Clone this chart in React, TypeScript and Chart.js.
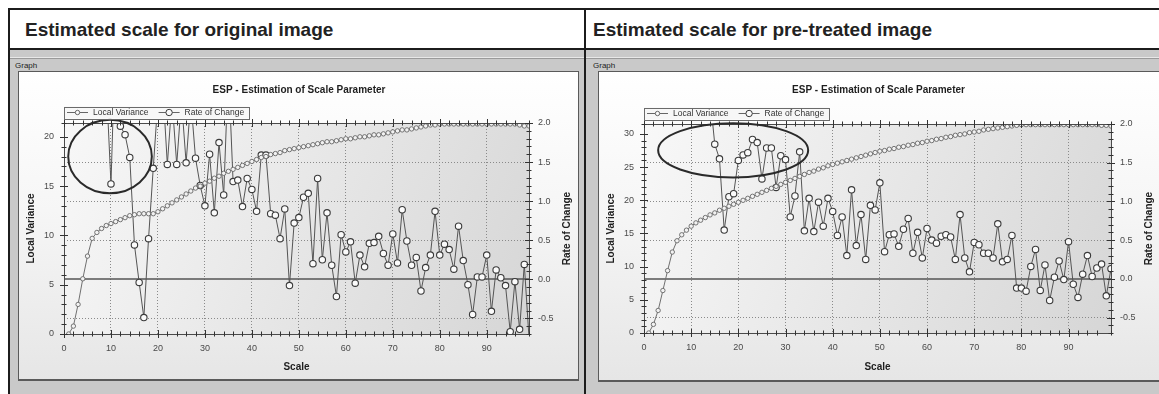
import React, { useEffect, useRef } from 'react';
import { Chart, registerables } from 'chart.js';

Chart.register(...registerables);

const FONT = '"Liberation Sans", Arial, Helvetica, sans-serif';
Chart.defaults.font.family = FONT;

// ---------- data ----------
const SCALE_LEVELS: number[] = Array.from({ length: 99 }, (_, i) => i + 1);

const X_TICKS = { min: 0, max: 99, minorStep: 2, majorStep: 10 };

const ORIGINAL_LOCAL_VARIANCE: number[] = [
  0, 0.8, 3.0, 5.6, 7.9, 9.7, 10.3, 10.7, 11.0, 11.2,
  11.4, 11.6, 11.8, 12.0, 12.1, 12.2, 12.2, 12.2, 12.2, 12.4,
  12.7, 13.0, 13.3, 13.6, 13.9, 14.2, 14.5, 14.8, 15.0, 15.3,
  15.5, 15.8, 16.0, 16.3, 16.5, 16.7, 16.9, 17.1, 17.3, 17.5,
  17.7, 17.9, 18.0, 18.2, 18.3, 18.4, 18.6, 18.7, 18.8, 18.9,
  19.0, 19.1, 19.2, 19.3, 19.4, 19.5, 19.5, 19.6, 19.7, 19.8,
  19.8, 19.9, 20.0, 20.0, 20.1, 20.2, 20.2, 20.3, 20.4, 20.5,
  20.6, 20.7, 20.7, 20.8, 20.9, 21.0, 21.1, 21.2, 21.2, 21.3,
  21.3, 21.3, 21.3, 21.3, 21.3, 21.3, 21.3, 21.3, 21.3, 21.3,
  21.3, 21.3, 21.3, 21.3, 21.3, 21.3, 21.2, 21.1, 21.1,
];

const ORIGINAL_RATE_OF_CHANGE: (number | null)[] = [
  null, 100, 60, 40, 25, 15, 6, 4, 2.52, 1.22,
  3.2, 1.96, 1.85, 1.56, 0.44, -0.04, -0.49, 0.52, 1.42, 2.3,
  2.5, 1.47, 2.3, 1.47, 2.3, 1.49, 2.3, 1.55, 1.2, 0.94,
  1.6, 0.85, 1.75, 1.08, 2.7, 1.25, 1.27, 0.93, 1.29, 1.15,
  0.87, 1.59, 1.59, 0.84, 0.82, 0.52, 0.9, -0.08, 0.72, 0.79,
  1.05, 1.1, 0.2, 1.29, 0.25, 0.85, 0.18, -0.22, 0.57, 0.35,
  0.48, -0.05, 0.31, 0.16, 0.46, 0.47, 0.55, 0.33, 0.18, 0.58,
  0.21, 0.89, 0.49, 0.18, 0.28, -0.15, 0.15, 0.31, 0.87, 0.31,
  0.45, 0.38, 0.13, 0.68, 0.24, -0.07, -0.45, 0.03, 0.03, 0.31,
  -0.41, 0.12, 0.02, -0.08, -0.67, -0.03, -0.64, 0.19, -0.75,
];

const PRETREATED_LOCAL_VARIANCE: number[] = [
  0, 1.3, 3.4, 6.4, 9.4, 12.2, 13.9, 14.8, 15.5, 16.1,
  16.6, 17.0, 17.4, 17.8, 18.1, 18.5, 18.8, 19.1, 19.4, 19.7,
  20.0, 20.3, 20.6, 20.9, 21.2, 21.5, 21.8, 22.1, 22.4, 22.7,
  23.0, 23.3, 23.6, 23.9, 24.2, 24.4, 24.7, 24.9, 25.2, 25.4,
  25.6, 25.8, 26.0, 26.2, 26.4, 26.6, 26.8, 27.0, 27.2, 27.4,
  27.5, 27.7, 27.8, 28.0, 28.1, 28.3, 28.4, 28.6, 28.7, 28.9,
  29.0, 29.2, 29.3, 29.5, 29.6, 29.8, 29.9, 30.0, 30.2, 30.3,
  30.4, 30.6, 30.7, 30.8, 30.9, 31.0, 31.1, 31.2, 31.3, 31.4,
  31.4, 31.4, 31.4, 31.4, 31.4, 31.4, 31.4, 31.4, 31.4, 31.4,
  31.4, 31.4, 31.4, 31.4, 31.4, 31.4, 31.3, 31.3, 31.2,
];

const PRETREATED_RATE_OF_CHANGE: (number | null)[] = [
  null, 100, 60, 40, 30, 20, 10, 6, 4.5, 4,
  3.5, 3, 2.6, 2.35, 1.74, 1.55, 0.63, 1.06, 1.1, 1.53,
  1.6, 1.63, 1.8, 1.76, 1.29, 1.69, 1.69, 1.18, 1.59, 1.54,
  0.8, 1.07, 1.64, 0.62, 1.04, 0.61, 0.99, 0.68, 1.04, 0.87,
  0.56, 0.8, 0.3, 1.15, 0.43, 0.83, 0.25, 0.95, 0.89, 1.24,
  0.35, 0.57, 0.58, 0.42, 0.64, 0.78, 0.33, 0.6, 0.27, 0.65,
  0.5, 0.46, 0.55, 0.57, 0.54, 0.25, 0.83, 0.27, 0.09, 0.47,
  0.44, 0.33, 0.33, 0.27, 0.71, 0.22, 0.25, 0.56, -0.12, -0.12,
  -0.16, 0.16, 0.38, -0.15, 0.18, -0.28, 0.02, 0.23, -0.01, 0.48,
  -0.07, -0.24, 0.06, 0.3, 0.03, 0.14, 0.19, -0.22, 0.13,
];

const ROC_AXIS = { min: -0.7, max: 2.0, minorStep: 0.1, majorStep: 0.5 };
const ORIGINAL_LV_MAX = 21.4;
const PRETREATED_LV_MAX = 31.5;
const LV_MINOR_STEP = 1;
const LV_MAJOR_STEP = 5;

// annotation ellipses, in data units (x: scale, y: rate of change)
const ORIGINAL_ELLIPSE = { x: 9.8, y: 1.57, rx: 8.9, ry: 0.47 };
const PRETREATED_ELLIPSE = { x: 18.9, y: 1.66, rx: 15.9, ry: 0.35 };

const CHART_TITLE = 'ESP - Estimation of Scale Parameter';
const LV_LABEL = 'Local Variance';
const ROC_LABEL = 'Rate of Change';
const X_TITLE = 'Scale';

// ---------- helpers ----------
const isMultiple = (v: number, step: number) => Math.abs(v / step - Math.round(v / step)) < 1e-6;

const decorPlugin = {
  id: 'espDecor',
  beforeDraw(chart: any) {
    const { ctx, chartArea: a } = chart;
    const g = ctx.createLinearGradient(a.left, a.top, a.right, a.bottom);
    g.addColorStop(0, '#f8f8f8');
    g.addColorStop(1, '#d6d6d6');
    ctx.save();
    ctx.fillStyle = g;
    ctx.fillRect(a.left, a.top, a.right - a.left, a.bottom - a.top);
    ctx.restore();
  },
  beforeDatasetsDraw(chart: any) {
    const { ctx, chartArea: a } = chart;
    const py = Math.round(chart.scales.y1.getPixelForValue(0));
    ctx.save();
    ctx.strokeStyle = '#555';
    ctx.lineWidth = 1.6;
    ctx.beginPath();
    ctx.moveTo(a.left, py);
    ctx.lineTo(a.right, py);
    ctx.stroke();
    ctx.restore();
  },
  afterDatasetsDraw(chart: any, _args: any, opts: any) {
    const { ctx, chartArea: a } = chart;
    const xs = chart.scales.x;
    const yl = chart.scales.y;
    const yr = chart.scales.y1;
    ctx.save();
    // frame
    ctx.strokeStyle = '#4a4a4a';
    ctx.lineWidth = 1;
    ctx.strokeRect(Math.round(a.left) + 0.5, Math.round(a.top) + 0.5, Math.round(a.right - a.left), Math.round(a.bottom - a.top));
    // tick marks crossing the frame on four sides
    ctx.strokeStyle = '#333';
    ctx.lineWidth = 1;
    const mark = (x1: number, y1: number, x2: number, y2: number) => {
      ctx.beginPath();
      ctx.moveTo(x1, y1);
      ctx.lineTo(x2, y2);
      ctx.stroke();
    };
    xs.ticks.forEach((t: any) => {
      const p = Math.round(xs.getPixelForValue(t.value)) + 0.5;
      const len = t.label ? 4 : 2.5;
      mark(p, a.bottom - len, p, a.bottom + len);
      mark(p, a.top - len, p, a.top + len);
    });
    yl.ticks.forEach((t: any) => {
      const p = Math.round(yl.getPixelForValue(t.value)) + 0.5;
      const len = t.label ? 4 : 2.5;
      mark(a.left - len, p, a.left + len, p);
    });
    yr.ticks.forEach((t: any) => {
      const p = Math.round(yr.getPixelForValue(t.value)) + 0.5;
      const len = t.label ? 4 : 2.5;
      mark(a.right - len, p, a.right + len, p);
    });
    // annotation ellipse
    const e = opts.ellipse;
    const cx = xs.getPixelForValue(e.x);
    const cy = yr.getPixelForValue(e.y);
    const rx = Math.abs(xs.getPixelForValue(e.x + e.rx) - cx);
    const ry = Math.abs(yr.getPixelForValue(e.y + e.ry) - cy);
    ctx.strokeStyle = '#2a2a2a';
    ctx.lineWidth = 2;
    ctx.beginPath();
    ctx.ellipse(cx, cy, rx, ry, 0, 0, Math.PI * 2);
    ctx.stroke();
    // right axis title, reading bottom-to-top
    ctx.fillStyle = '#222';
    ctx.font = 'bold 10px ' + FONT;
    ctx.textAlign = 'center';
    ctx.textBaseline = 'middle';
    ctx.translate(a.right + opts.rightTitleOffset, (a.top + a.bottom) / 2);
    ctx.rotate(-Math.PI / 2);
    ctx.fillText(opts.rightTitle, 0, 0);
    ctx.restore();

    // legend box
    ctx.save();
    ctx.font = '8.5px ' + FONT;
    ctx.textBaseline = 'middle';
    ctx.textAlign = 'left';
    const ly = a.top - opts.legendGap;
    let x = a.left + 3;
    const items = chart.data.datasets.map((ds: any) => ({ label: ds.label, r: ds.pointRadius, c: ds.pointBorderColor }));
    const positions: any[] = [];
    items.forEach((it: any) => {
      positions.push({ x, it });
      x += 26 + ctx.measureText(it.label).width + 10;
    });
    const boxRight = x - 10 + 5;
    ctx.fillStyle = '#f7f7f7';
    ctx.fillRect(a.left, ly - 6, boxRight - a.left, 12);
    ctx.strokeStyle = '#6a6a6a';
    ctx.lineWidth = 1;
    ctx.strokeRect(Math.round(a.left) + 0.5, Math.round(ly - 6) + 0.5, Math.round(boxRight - a.left), 12);
    positions.forEach(({ x: px, it }) => {
      ctx.strokeStyle = '#666';
      ctx.beginPath();
      ctx.moveTo(px, ly);
      ctx.lineTo(px + 21, ly);
      ctx.stroke();
      ctx.beginPath();
      ctx.arc(px + 10.5, ly, it.r, 0, Math.PI * 2);
      ctx.fillStyle = '#fafafa';
      ctx.fill();
      ctx.strokeStyle = it.c;
      ctx.stroke();
      ctx.fillStyle = '#333';
      ctx.fillText(it.label, px + 26, ly + 0.5);
    });
    ctx.restore();
  },
};

type ChartProps = {
  lv: number[];
  roc: (number | null)[];
  lvMax: number;
  ellipse: { x: number; y: number; rx: number; ry: number };
  left: number;
  top: number;
  width: number;
  height: number;
  leftAxisWidth: number;
  rightAxisWidth: number;
  bottomAxisHeight: number;
  titleGap: number;
};

function EspChart(p: ChartProps) {
  const ref = useRef<HTMLCanvasElement>(null);
  useEffect(() => {
    const tickFont = { size: 9, family: FONT };
    const chart = new Chart(ref.current as HTMLCanvasElement, {
      type: 'line',
      data: {
        datasets: [
          {
            label: LV_LABEL,
            data: SCALE_LEVELS.map((s, i) => ({ x: s, y: p.lv[i] })),
            yAxisID: 'y',
            borderColor: '#707070',
            borderWidth: 1,
            pointRadius: 2.2,
            pointBorderWidth: 0.9,
            pointBackgroundColor: '#f2f2f2',
            pointBorderColor: '#666',
            tension: 0,
          },
          {
            label: ROC_LABEL,
            data: SCALE_LEVELS.map((s, i) => ({ x: s, y: p.roc[i] })),
            yAxisID: 'y1',
            borderColor: '#555',
            borderWidth: 1,
            pointRadius: 3.2,
            pointBorderWidth: 1.1,
            pointBackgroundColor: '#fbfbfb',
            pointBorderColor: '#3a3a3a',
            tension: 0,
            spanGaps: false,
          },
        ],
      } as any,
      options: {
        responsive: false,
        animation: false,
        devicePixelRatio: 1,
        events: [],
        layout: { padding: 0 },
        plugins: {
          legend: { display: false },
          tooltip: { enabled: false },
          title: {
            display: true,
            text: CHART_TITLE,
            color: '#1e1e1e',
            font: { size: 10, weight: 'bold', family: FONT },
            padding: { top: 12, bottom: p.titleGap },
          },
          espDecor: {
            ellipse: p.ellipse,
            rightTitle: ROC_LABEL,
            rightTitleOffset: 38,
            legendGap: 10.5,
          },
        } as any,
        scales: {
          x: {
            type: 'linear',
            min: X_TICKS.min,
            max: X_TICKS.max,
            ticks: {
              stepSize: X_TICKS.minorStep,
              autoSkip: false,
              maxRotation: 0,
              padding: 5,
              color: '#4a4a4a',
              font: tickFont,
              callback: (v: any) => (isMultiple(v, X_TICKS.majorStep) ? String(v) : ''),
            },
            grid: {
              color: (c: any) => {
                const v = c.tick ? c.tick.value : 0;
                return v > 0 && v < X_TICKS.max && isMultiple(v, X_TICKS.majorStep) ? '#8a8a8a' : 'transparent';
              },
              lineWidth: 1,
              tickColor: 'transparent',
              tickLength: 4,
            },
            border: { display: false, dash: [1, 2] },
            title: {
              display: true,
              text: X_TITLE,
              color: '#1e1e1e',
              font: { size: 10, weight: 'bold', family: FONT },
              padding: { top: 0, bottom: 7 },
            },
            afterFit: (s: any) => {
              s.height = p.bottomAxisHeight;
            },
          },
          y: {
            type: 'linear',
            position: 'left',
            min: 0,
            max: p.lvMax,
            ticks: {
              stepSize: LV_MINOR_STEP,
              autoSkip: false,
              padding: 6,
              color: '#4a4a4a',
              font: tickFont,
              callback: (v: any) => (isMultiple(v, LV_MAJOR_STEP) ? String(v) : ''),
            },
            grid: { drawOnChartArea: false, tickColor: 'transparent', tickLength: 4 },
            border: { display: false },
            title: {
              display: true,
              text: LV_LABEL,
              color: '#1e1e1e',
              font: { size: 10, weight: 'bold', family: FONT },
              padding: { top: 7, bottom: 0 },
            },
            afterFit: (s: any) => {
              s.width = p.leftAxisWidth;
            },
          },
          y1: {
            type: 'linear',
            position: 'right',
            min: ROC_AXIS.min,
            max: ROC_AXIS.max,
            ticks: {
              stepSize: ROC_AXIS.minorStep,
              autoSkip: false,
              padding: 5,
              color: '#4a4a4a',
              font: tickFont,
              callback: (v: any) => (isMultiple(v, ROC_AXIS.majorStep) ? Number(v).toFixed(1) : ''),
            },
            grid: {
              color: (c: any) => {
                const v = c.tick ? c.tick.value : 0;
                return Math.abs(v) > 1e-6 && v < ROC_AXIS.max - 1e-6 && isMultiple(v, ROC_AXIS.majorStep) ? '#8a8a8a' : 'transparent';
              },
              lineWidth: 1,
              tickColor: 'transparent',
              tickLength: 4,
            },
            border: { display: false, dash: [1, 2] },
            afterFit: (s: any) => {
              s.width = p.rightAxisWidth;
            },
          },
        } as any,
      },
      plugins: [decorPlugin as any],
    });
    return () => chart.destroy();
  }, []);
  return (
    <canvas
      ref={ref}
      width={p.width}
      height={p.height}
      style={{ position: 'absolute', left: p.left, top: p.top, width: p.width, height: p.height }}
    />
  );
}

const abs = (l: number, t: number, w: number, h: number, extra: any = {}) => ({
  position: 'absolute' as const,
  left: l,
  top: t,
  width: w,
  height: h,
  ...extra,
});

export default function App() {
  const dark = '#1c1c1c';
  const gray = '#c9c9c9';
  const panelBg = 'linear-gradient(to bottom, #ffffff 0%, #f6f6f6 45%, #e6e6e6 100%)';
  const headerText = { fontFamily: FONT, fontSize: 19, fontWeight: 'bold' as const, color: '#222', lineHeight: '19px', whiteSpace: 'nowrap' as const };
  const graphText = { fontFamily: FONT, fontSize: 8, color: '#222', lineHeight: '8px', whiteSpace: 'nowrap' as const };
  return (
    <div style={abs(0, 0, 1159, 394, { background: '#fff', overflow: 'hidden', fontFamily: FONT })}>
      {/* lower gray frames */}
      <div style={abs(10, 50, 574, 344, { background: gray })} />
      <div style={abs(586, 50, 573, 344, { background: gray })} />
      {/* etched group-box lines */}
      <div style={abs(10, 57, 574, 1, { background: '#e8e8e8' })} />
      <div style={abs(10, 58, 574, 1, { background: '#9a9a9a' })} />
      <div style={abs(586, 57, 573, 1, { background: '#e8e8e8' })} />
      <div style={abs(586, 58, 573, 1, { background: '#9a9a9a' })} />
      {/* header lines */}
      <div style={abs(8, 8, 1151, 2, { background: dark })} />
      <div style={abs(8, 48, 1151, 2, { background: dark })} />
      <div style={abs(8, 8, 2, 386, { background: dark })} />
      <div style={abs(584, 8, 2, 386, { background: dark })} />
      {/* header texts */}
      <div style={abs(25, 20, 500, 19, headerText)}>Estimated scale for original image</div>
      <div style={abs(593, 20, 500, 19, headerText)}>Estimated scale for pre-treated image</div>
      {/* group captions */}
      <div style={abs(15, 62, 60, 8, graphText)}>Graph</div>
      <div style={abs(593, 62, 60, 8, graphText)}>Graph</div>
      {/* inner chart panels */}
      <div style={abs(18, 71, 561, 310, { background: panelBg, border: '1px solid #5a5a5a', borderBottomWidth: 2, boxSizing: 'border-box' })} />
      <div style={abs(598, 71, 580, 311, { background: panelBg, border: '1px solid #5a5a5a', borderBottomWidth: 2, boxSizing: 'border-box' })} />
      <EspChart
        lv={ORIGINAL_LOCAL_VARIANCE}
        roc={ORIGINAL_RATE_OF_CHANGE}
        lvMax={ORIGINAL_LV_MAX}
        ellipse={ORIGINAL_ELLIPSE}
        left={18}
        top={72}
        width={562}
        height={308}
        leftAxisWidth={46}
        rightAxisWidth={51}
        bottomAxisHeight={46}
        titleGap={27}
      />
      <EspChart
        lv={PRETREATED_LOCAL_VARIANCE}
        roc={PRETREATED_RATE_OF_CHANGE}
        lvMax={PRETREATED_LV_MAX}
        ellipse={PRETREATED_ELLIPSE}
        left={598}
        top={72}
        width={561}
        height={308}
        leftAxisWidth={46}
        rightAxisWidth={48}
        bottomAxisHeight={47}
        titleGap={28}
      />
    </div>
  );
}
